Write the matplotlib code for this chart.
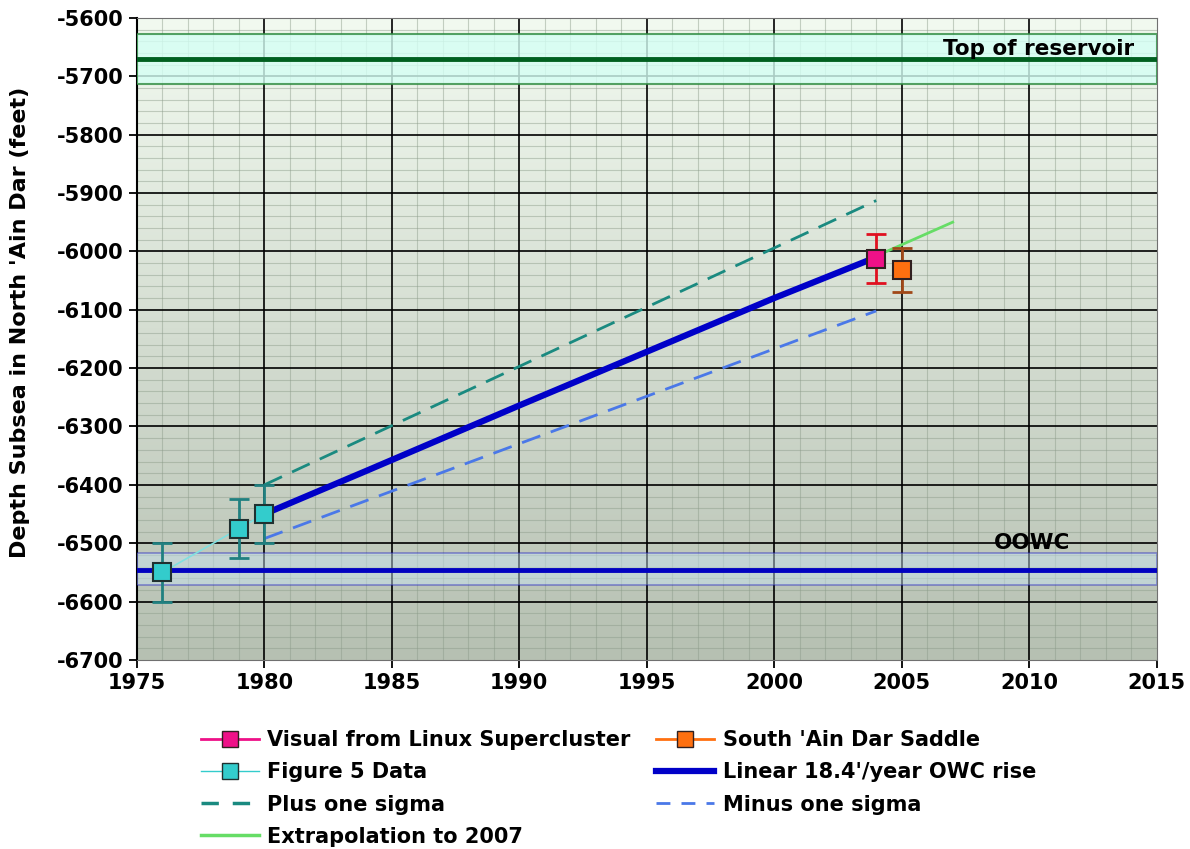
import matplotlib.pyplot as plt
import numpy as np
from matplotlib.lines import Line2D

# data
fig5_years = [1976, 1979, 1980]
fig5_depth = [-6550, -6475, -6450]
fig5_err = [50, 50, 50]

visual_year = [2004]
visual_depth = [-6013]
visual_err = [42]

saddle_year = [2005]
saddle_depth = [-6032]
saddle_err = [37]

linear_years = [1980, 1984, 1990, 2000, 2004]
linear_depth = [-6450, -6376, -6264, -6080, -6010]

plus_years = [1980, 2004]
plus_depth = [-6400, -5913]
minus_years = [1980, 2004]
minus_depth = [-6492, -6102]

extrap_years = [2004, 2007]
extrap_depth = [-6008, -5950]

top_res = -5670
top_band = (-5713, -5627)
owc = -6545
owc_band = (-6572, -6517)

plt.rcParams['font.family'] = 'DejaVu Sans'
plt.rcParams['font.weight'] = 'bold'
plt.rcParams['axes.unicode_minus'] = False

fig = plt.figure(figsize=(11.9, 8.49), dpi=100)
ax = fig.add_axes([0.115, 0.2226, 0.857, 0.7564])
ax.set_xlim(1975, 2015)
ax.set_ylim(-6700, -5600)

# gradient background
top_c = np.array([242, 250, 240]) / 255
bot_c = np.array([182, 192, 178]) / 255
t = np.linspace(0, 1, 256)[:, None]
grad = top_c * (1 - t) + bot_c * t
ax.imshow(grad[:, None, :].repeat(2, axis=1), extent=[1975, 2015, -6700, -5600],
          aspect='auto', origin='upper', zorder=0)

# grids
for xv in range(1976, 2015):
    if xv % 5:
        ax.axvline(xv, color='#8a9a88', lw=0.8, alpha=0.45, zorder=1)
for yv in range(-6680, -5600, 20):
    if yv % 100:
        ax.axhline(yv, color='#8a9a88', lw=0.8, alpha=0.45, zorder=1)
for xv in range(1980, 2015, 5):
    ax.axvline(xv, color='black', lw=1.2, zorder=2)
for yv in range(-6600, -5600, 100):
    ax.axhline(yv, color='black', lw=1.2, zorder=2)

# bands
ax.axhspan(top_band[0], top_band[1], facecolor='#d4fff4', alpha=0.8,
           edgecolor='#2e8b40', lw=1.5, zorder=3)
ax.axhline(top_res, color='#006020', lw=3.5, zorder=4)
ax.axhspan(owc_band[0], owc_band[1], facecolor='#c8e4f4', alpha=0.45,
           edgecolor='#2020c0', lw=1.2, zorder=3)
ax.axhline(owc, color='#0000c0', lw=3.5, zorder=4)

ax.text(2014.1, -5670, 'Top of reservoir', ha='right', va='bottom',
        fontsize=15.5, fontweight='bold', zorder=6)
ax.text(2010.1, -6516, 'OOWC', ha='center', va='bottom',
        fontsize=15.5, fontweight='bold', zorder=6)

# lines
ax.plot(plus_years, plus_depth, color='#1a8a80', lw=2, dashes=(7, 4), zorder=5)
ax.plot(minus_years, minus_depth, color='#4a78e8', lw=2, dashes=(7, 4), zorder=5)
ax.plot(linear_years, linear_depth, color='#0000c8', lw=4.5, zorder=5,
        solid_capstyle='butt')
ax.plot(extrap_years, extrap_depth, color='#66dd66', lw=2, zorder=5)

ax.plot(fig5_years, fig5_depth, color='#80e0e0', lw=1.2, zorder=5)
ax.errorbar(fig5_years, fig5_depth, yerr=fig5_err, fmt='none', ecolor='#208080',
            elinewidth=2, capsize=7, capthick=2, zorder=6)
ax.plot(fig5_years, fig5_depth, 's', ms=13, mfc='#33cccc', mec='#203030',
        mew=1.5, zorder=7)

ax.errorbar(visual_year, visual_depth, yerr=visual_err, fmt='none', ecolor='#e01020',
            elinewidth=2, capsize=7, capthick=2, zorder=6)
ax.plot(visual_year, visual_depth, 's', ms=13, mfc='#ee1188', mec='#302020',
        mew=1.5, zorder=7)
ax.errorbar(saddle_year, saddle_depth, yerr=saddle_err, fmt='none', ecolor='#a04818',
            elinewidth=2, capsize=7, capthick=2, zorder=6)
ax.plot(saddle_year, saddle_depth, 's', ms=13, mfc='#ff7010', mec='#302020',
        mew=1.5, zorder=7)

ax.set_xticks(range(1975, 2016, 5))
ax.set_yticks(range(-6700, -5599, 100))
ax.tick_params(labelsize=15, length=6, width=1.3, direction='out')
for lab in ax.get_xticklabels() + ax.get_yticklabels():
    lab.set_fontweight('bold')
ax.set_ylabel("Depth Subsea in North 'Ain Dar (feet)", fontsize=16,
              fontweight='bold')
ax.yaxis.set_label_coords(-0.105, 0.526)
for s in ax.spines.values():
    s.set_color('#707070')
ax.spines['left'].set_color('black')
ax.spines['left'].set_linewidth(1.5)

handles = [
    Line2D([], [], color='#ee1188', lw=2, marker='s', ms=12, mfc='#ee1188', mec='#302020'),
    Line2D([], [], color='#33cccc', lw=1, marker='s', ms=12, mfc='#33cccc', mec='#203030'),
    Line2D([], [], color='#1a8a80', lw=2.5, dashes=(5, 4)),
    Line2D([], [], color='#66dd66', lw=2.5),
    Line2D([], [], color='#ff7010', lw=2, marker='s', ms=12, mfc='#ff7010', mec='#302020'),
    Line2D([], [], color='#0000c8', lw=4.5),
    Line2D([], [], color='#4a78e8', lw=2, dashes=(5, 4)),
]
labels = ['Visual from Linux Supercluster', 'Figure 5 Data', 'Plus one sigma',
          'Extrapolation to 2007', "South 'Ain Dar Saddle",
          "Linear 18.4'/year OWC rise", 'Minus one sigma']
fig.legend(handles, labels, ncol=2, loc='upper left', bbox_to_anchor=(0.16, 0.152),
           frameon=False, fontsize=15, handlelength=2.8, handletextpad=0.4,
           labelspacing=0.58, columnspacing=1.2, borderpad=0.0)

fig.savefig('out.png', dpi=100)
